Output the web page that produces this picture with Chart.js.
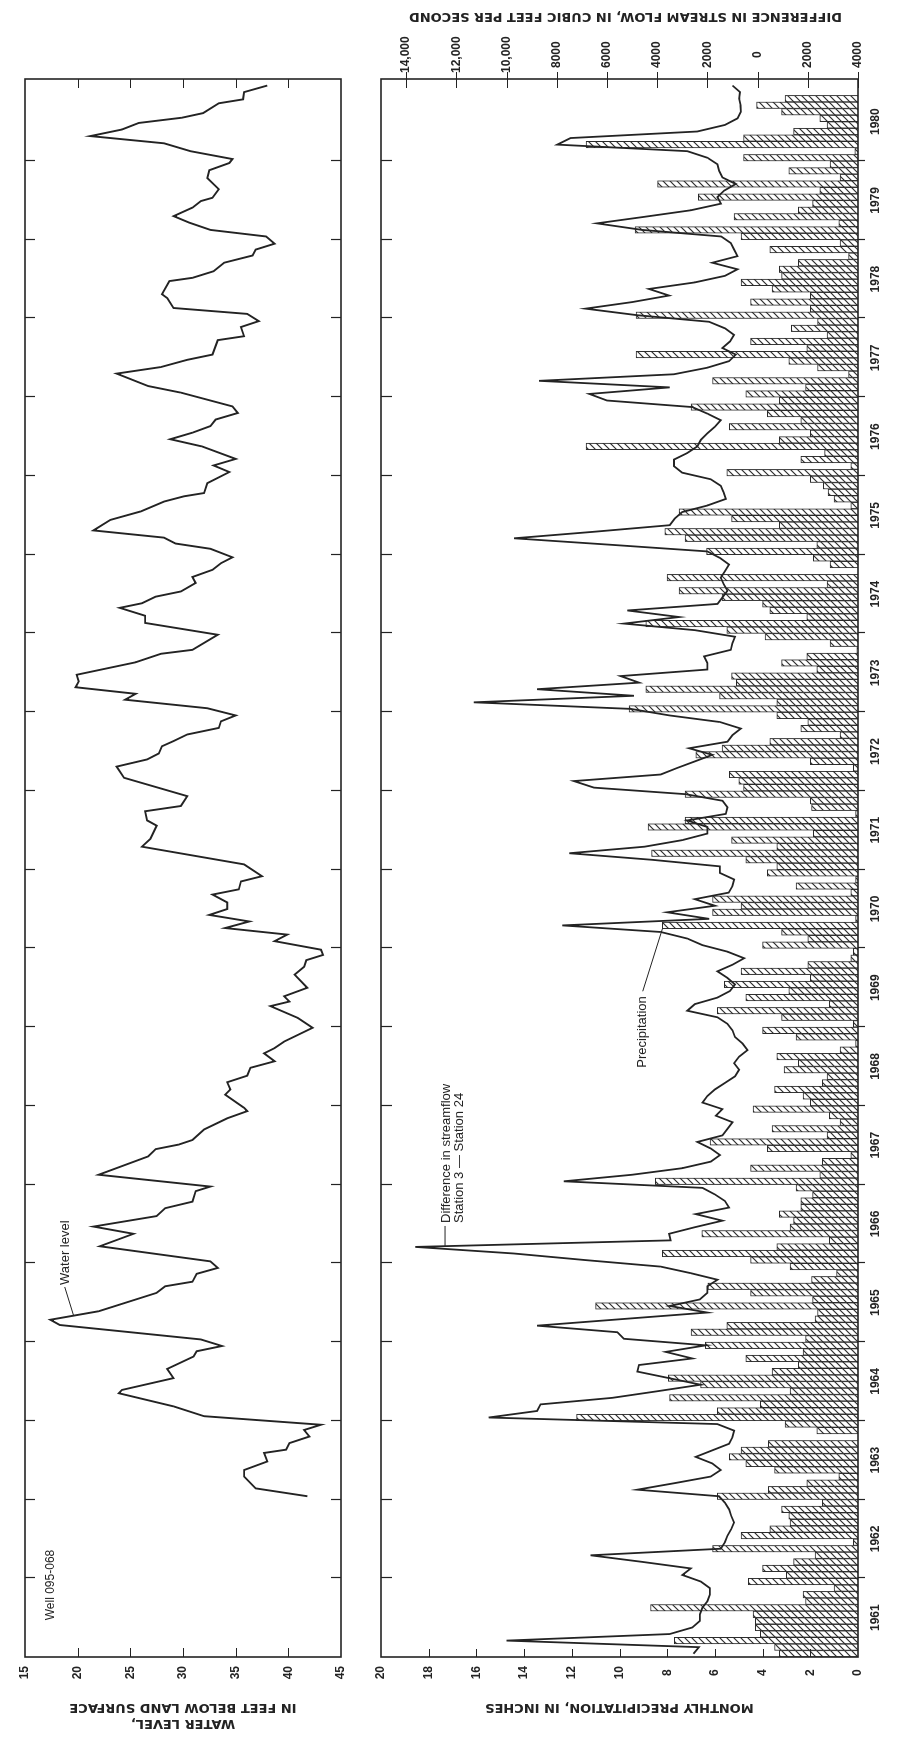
<!DOCTYPE html>
<html>
<head>
<meta charset="utf-8">
<title>Water level, precipitation and streamflow difference, 1961-1980</title>
<script src="https://cdn.jsdelivr.net/npm/chart.js@4.4.1/dist/chart.umd.min.js"></script>
<style>
  html, body { margin: 0; padding: 0; background: #fff; width: 919px; height: 1737px; overflow: hidden; }
  /* The figure is laid out landscape (1737 x 919) and turned a quarter turn to stand on the page. */
  #sheet { position: absolute; left: 0; top: 0; width: 1737px; height: 919px; background: #fff;
           transform-origin: 0 0; transform: translateY(1737px) rotate(-90deg); }
  #sheet canvas { position: absolute; left: 0; top: 0; }
</style>
</head>
<body>
<div id="sheet">
  <canvas id="wellChart" width="1737" height="919"></canvas>
  <canvas id="flowChart" width="1737" height="919"></canvas>
</div>
<script>
// ---- data -------------------------------------------------------------
const yearLabels = ['1961','1962','1963','1964','1965','1966','1967','1968','1969','1970',
                    '1971','1972','1973','1974','1975','1976','1977','1978','1979','1980'];

// Monthly precipitation, inches, starting January 1961
const precipInches = [
  3.3, 3.5, 7.7, 4.1, 4.3, 4.3, 4.4, 8.7, 2.2, 2.3, 1.0, 4.6,
  3.0, 4.0, 2.7, 1.8, 6.1, 0.2, 4.9, 3.7, 2.85, 2.9, 3.2, 1.5,
  5.9, 3.76, 2.15, 0.8, 3.5, 4.7, 5.4, 4.9, 3.76, 0.0, 1.73, 3.06,
  11.8, 5.9, 4.1, 7.9, 2.85, 6.6, 7.95, 3.6, 2.5, 4.7, 2.3, 6.4,
  2.2, 7.0, 5.5, 1.8, 1.7, 11.0, 1.9, 4.5, 6.3, 1.95, 0.9, 2.85,
  4.5, 8.2, 3.4, 1.2, 6.55, 2.85, 2.7, 3.3, 2.4, 2.4, 1.9, 2.6,
  8.5, 1.6, 4.5, 1.5, 0.3, 3.8, 6.2, 1.3, 3.6, 0.75, 1.2, 4.4,
  2.0, 2.3, 3.5, 1.5, 1.3, 3.1, 2.5, 3.4, 0.75, 0.1, 2.6, 4.0,
  0.2, 3.2, 5.9, 1.2, 4.7, 2.9, 5.6, 2.0, 4.9, 2.1, 0.3, 0.2,
  4.0, 2.1, 3.2, 8.2, 0.1, 6.1, 4.9, 6.1, 0.3, 2.6, 0.1, 3.8,
  3.4, 4.7, 8.65, 3.4, 5.3, 1.87, 8.8, 7.25, 0.1, 1.95, 2.0, 7.25,
  4.8, 5.0, 5.4, 0.2, 2.0, 6.8, 5.7, 3.7, 0.75, 2.4, 2.1, 3.4,
  9.6, 3.4, 5.8, 8.9, 5.1, 5.3, 1.73, 3.2, 2.15, 0.05, 1.17, 3.9,
  5.5, 8.9, 2.15, 3.7, 4.0, 5.7, 7.5, 1.3, 8.0, 0.0, 1.17, 1.87,
  6.35, 1.73, 7.25, 8.1, 3.3, 5.3, 7.5, 0.3, 1.0, 1.25, 1.45, 2.0,
  5.5, 0.3, 2.4, 1.4, 11.4, 3.3, 2.0, 5.4, 2.4, 3.8, 7.0, 3.3,
  4.7, 2.2, 6.1, 0.4, 1.7, 2.9, 9.3, 2.15, 4.5, 1.3, 2.8, 1.7,
  9.3, 2.0, 4.5, 2.0, 3.6, 4.9, 3.2, 3.3, 2.5, 0.4, 3.7, 0.75,
  4.9, 9.35, 0.8, 5.2, 2.5, 1.9, 6.7, 1.6, 8.4, 0.75, 2.9, 1.17,
  4.8, 0.13, 11.4, 4.8, 2.7, 1.3, 1.6, 3.2, 4.25, 3.06
];

// Monthly difference in streamflow, Station 3 - Station 24, cubic feet per second
const flowCfs = [
  2550, 2340, 10000, 3500, 2600, 2300, 2300, 2200, 2000, 1900, 1900, 2264,
  2995, 2663, 4600, 6653, 1466, 1300, 1200, 1050, 934, 1050, 1134, 1300,
  1530, 4791, 3300, 1865, 1466, 1800, 2464, 1800, 1134, 1000, 934, 1600,
  10710, 8781, 8648, 5788, 4000, 2264, 3526, 4791, 4724, 2597, 3660, 2064,
  5323, 5589, 8781, 5400, 2000, 3500, 2300, 2000, 2000, 1600, 2663, 3860,
  6880, 9720, 13636, 3460, 3526, 2500, 1400, 2464, 1134, 1300, 1700, 2197,
  7717, 5000, 3000, 1865, 1500, 1865, 2397, 1400, 1200, 1000, 1666, 1400,
  2197, 2000, 1700, 1300, 900, 735, 934, 735, 400, 600, 900, 1000,
  1200, 1600, 2800, 2500, 1600, 1100, 900, 1200, 1600, 1000, 535, 1200,
  2200, 2800, 3860, 7780, 1930, 3600, 1700, 2500, 1150, 1000, 930, 1500,
  1500, 4200, 7500, 4500, 3000, 2000, 2000, 2800, 1266, 1200, 1400, 2863,
  6520, 7318, 3860, 3200, 2500, 1800, 2730, 1200, 1000, 668, 1500, 3500,
  5057, 11308, 4924, 8781, 4724, 5456, 2000, 2000, 2131, 1067, 1000, 900,
  2500, 5323, 3128, 5190, 1600, 1400, 1200, 1350, 1466, 1300, 1134, 1500,
  2000, 5800, 9700, 6500, 3500, 3300, 3000, 2000, 1266, 1350, 1466, 1865,
  3000, 3330, 3330, 2800, 2400, 2260, 2000, 1700, 1470, 2000, 2600, 6000,
  6700, 3500, 8700, 3330, 2000, 1134, 868, 1400, 1100, 934, 1300, 1932,
  4791, 6853, 5000, 3526, 4326, 2500, 1300, 800, 1800, 800, 934, 1067,
  1450, 4600, 6400, 4500, 2650, 1460, 1600, 1330, 870, 1400, 1530, 1600,
  2000, 2800, 7980, 7450, 2400, 1300, 800, 668, 680, 735, 700, 1000
];

// Well 095-068: time of each reading (months after 1 January 1961) and depth to water (feet)
const waterMonths = [
  24.5, 25.7, 27.5, 28.5, 29.8, 31.1, 31.6, 32.6, 33.6, 34.6, 35.4, 36.7, 38.2, 40.2, 40.7,
  42.5, 43.9, 45.8, 46.6, 47.4, 48.4, 50.6, 51.4, 52.7, 55.5, 56.5, 57.2, 58.4, 59.3, 60.3,
  62.6, 64.5, 65.6, 67.2, 68.4, 69.4, 71.0, 71.7, 73.5, 76.3, 77.4, 78.1, 78.8, 80.4, 82.1,
  83.2, 83.7, 85.7, 86.5, 87.6, 88.6, 89.8, 90.8, 92.0, 92.8, 93.8, 95.9, 97.4, 99.2, 99.9,
  100.7, 102.0, 104.0, 105.2, 106.2, 107.0, 107.8, 109.1, 110.1, 111.1, 112.1, 113.1, 114.0,
  115.0, 116.2, 117.0, 118.2, 119.0, 120.8, 123.5, 124.7, 126.7, 127.5, 128.9, 129.7, 131.2,
  134.0, 135.7, 136.8, 137.7, 138.8, 139.6, 140.6, 141.6, 142.6, 143.5, 144.6, 145.9, 146.8,
  147.8, 148.7, 149.7, 151.6, 152.9, 153.5, 155.8, 157.6, 158.7, 159.9, 160.6, 161.6, 162.4,
  163.7, 164.6, 165.7, 166.7, 167.6, 168.9, 169.7, 170.6, 171.7, 173.3, 174.6, 176.1, 176.9,
  177.4, 178.9, 180.6, 181.6, 182.6, 184.5, 185.6, 186.6, 187.6, 188.6, 189.6, 190.6, 192.7,
  193.7, 195.6, 196.6, 197.7, 198.5, 200.7, 201.3, 202.7, 203.6, 204.7, 205.6, 207.1, 207.7,
  209.7, 210.2, 211.2, 212.5, 213.6, 214.5, 215.4, 216.5, 217.5, 218.6, 219.6, 220.9, 221.9,
  222.4, 223.7, 225.4, 226.6, 227.7, 228.3, 229.5, 230.7, 231.8, 232.8, 233.8, 234.6, 235.3,
  236.8, 237.4, 238.5, 239.5
];
const waterDepthFt = [
  41.8, 36.9, 35.8, 35.8, 38.0, 37.7, 39.8, 40.1, 42.0, 41.5, 43.1, 32.0, 29.1, 23.9, 24.2,
  29.1, 28.5, 31.0, 31.3, 33.7, 31.7, 18.3, 17.4, 22.0, 27.5, 28.3, 30.9, 31.3, 33.3, 32.6,
  22.1, 25.3, 21.5, 27.5, 28.3, 30.9, 31.2, 32.6, 22.0, 26.7, 27.4, 29.6, 30.9, 32.0, 34.2,
  36.1, 35.8, 34.0, 34.5, 34.2, 36.1, 36.4, 38.7, 37.7, 38.7, 39.6, 42.3, 40.9, 38.3, 40.1,
  39.6, 41.8, 40.6, 41.5, 41.7, 43.3, 43.1, 38.7, 39.9, 34.0, 36.3, 32.5, 34.2,
  34.2, 32.8, 35.3, 35.5, 37.5, 35.8, 26.1, 26.9, 27.5, 26.6, 26.4, 29.8, 30.4,
  24.4, 23.7, 26.6, 27.7, 28.0, 29.1, 30.4, 33.4, 33.6, 35.0, 32.3, 24.5, 25.5,
  19.8, 20.1, 19.9, 25.5, 27.9, 30.9, 33.3, 26.4, 26.4, 24.0, 26.1, 27.4, 29.8,
  31.2, 30.9, 32.8, 33.6, 34.7, 32.6, 29.3, 28.2, 21.5, 23.1, 26.0, 28.2, 30.1,
  32.0, 32.3, 34.4, 32.9, 35.0, 31.8, 28.8, 30.9, 32.6, 33.1, 35.2, 34.7, 29.8,
  26.7, 23.7, 27.9, 30.4, 32.8, 33.3, 35.8, 35.5, 37.2, 36.1, 29.1, 28.5, 28.0,
  28.7, 30.9, 32.9, 33.9, 36.6, 36.9, 38.7, 37.9, 32.6, 30.6, 29.1, 30.9, 31.7,
  32.8, 33.4, 32.3, 32.5, 34.4, 34.7, 30.7, 28.2, 21.2, 24.2, 25.8, 29.9, 31.9,
  33.4, 35.7, 35.8, 38.0
];

const depthTicks  = [15, 20, 25, 30, 35, 40, 45];
const precipTicks = [0, 2, 4, 6, 8, 10, 12, 14, 16, 18, 20];
const flowTicks   = [-4000, -2000, 0, 2000, 4000, 6000, 8000, 10000, 12000, 14000];

// ---- styling ----------------------------------------------------------
const INK = '#232323';
const FAMILY = '"Liberation Sans", Arial, Helvetica, sans-serif';
const WIDE = '"DejaVu Sans", Verdana, sans-serif';
const tickFont  = { family: FAMILY, size: 12, weight: 'bold' };
const titleFont = { family: WIDE, size: 13, weight: 'bold', lineHeight: 1.2 };
const MONTH_MAX = 240.5;

function hatchPattern() {
  const n = 7;
  const c = document.createElement('canvas');
  c.width = n; c.height = n;
  const g = c.getContext('2d');
  g.fillStyle = '#fff';
  g.fillRect(0, 0, n, n);
  g.strokeStyle = '#2e2e2e';
  g.lineWidth = 1.2;
  g.beginPath();
  g.moveTo(-1, n + 1); g.lineTo(n + 1, -1);
  g.moveTo(-1, 1); g.lineTo(1, -1);
  g.moveTo(n - 1, n + 1); g.lineTo(n + 1, n - 1);
  g.stroke();
  return g.createPattern(c, 'repeat');
}

function seg(ctx, x1, y1, x2, y2) { ctx.moveTo(x1, y1); ctx.lineTo(x2, y2); }

// ---- upper panel: well hydrograph --------------------------------------
const wellFrame = {
  id: 'wellFrame',
  afterDatasetsDraw(chart) {
    const { ctx, chartArea: a } = chart;
    const x = chart.scales.x, y = chart.scales.y;
    ctx.save();
    ctx.strokeStyle = INK;
    ctx.lineWidth = 1.6;
    ctx.strokeRect(a.left, a.top, a.right - a.left, a.bottom - a.top);
    ctx.lineWidth = 1.2;
    ctx.beginPath();
    for (let k = 1; k < yearLabels.length; k++) {
      const px = Math.round(x.getPixelForValue(k * 12)) + 0.5;
      seg(ctx, px, a.top, px, a.top + 10);
      seg(ctx, px, a.bottom, px, a.bottom - 10);
    }
    depthTicks.slice(1, -1).forEach(v => {
      const py = Math.round(y.getPixelForValue(v)) + 0.5;
      seg(ctx, a.left, py, a.left + 9, py);
      seg(ctx, a.right, py, a.right - 9, py);
    });
    ctx.stroke();

    ctx.fillStyle = INK;
    ctx.textAlign = 'left';
    ctx.textBaseline = 'alphabetic';
    ctx.font = '12px ' + FAMILY;
    ctx.fillText('Well 095-068', x.getPixelForValue(5.6), y.getPixelForValue(17.75));

    ctx.font = '13px ' + FAMILY;
    const tx = x.getPixelForValue(56.7), ty = y.getPixelForValue(19.2);
    ctx.fillText('Water level', tx, ty);
    ctx.lineWidth = 1;
    ctx.beginPath();
    seg(ctx, tx - 2, ty - 4.5, x.getPixelForValue(52.1), y.getPixelForValue(19.6));
    ctx.stroke();
    ctx.restore();
  }
};

new Chart(document.getElementById('wellChart'), {
  type: 'line',
  data: {
    datasets: [{
      data: waterMonths.map((t, i) => ({ x: t, y: waterDepthFt[i] })),
      borderColor: INK, borderWidth: 1.9, pointRadius: 0, tension: 0, fill: false
    }]
  },
  options: {
    responsive: false, animation: false, events: [], devicePixelRatio: 1,
    layout: { autoPadding: false, padding: { top: 25, bottom: 578, left: 0, right: 79 } },
    plugins: { legend: { display: false }, tooltip: { enabled: false } },
    scales: {
      x: { type: 'linear', min: 0, max: MONTH_MAX, display: false, offset: false },
      y: {
        type: 'linear', position: 'left', min: 15, max: 45, reverse: true,
        afterFit: s => { s.width = 80; },
        afterBuildTicks: s => { s.ticks = depthTicks.map(v => ({ value: v })); },
        grid: { display: false, drawTicks: false }, border: { display: false },
        ticks: { font: tickFont, color: INK, padding: 9, crossAlign: 'center' },
        title: { display: true, text: ['WATER LEVEL,', 'IN FEET BELOW LAND SURFACE'],
                 font: titleFont, color: INK, padding: { top: 6, bottom: 0 } }
      }
    }
  },
  plugins: [wellFrame]
});

// ---- lower panel: precipitation bars and streamflow difference ---------
const flowFrame = {
  id: 'flowFrame',
  afterDatasetsDraw(chart) {
    const { ctx, chartArea: a } = chart;
    const x = chart.scales.x, yp = chart.scales.yPrecip, yf = chart.scales.yFlow;
    ctx.save();
    ctx.strokeStyle = INK;
    ctx.lineWidth = 1.6;
    ctx.strokeRect(a.left, a.top, a.right - a.left, a.bottom - a.top);
    ctx.lineWidth = 1.2;
    ctx.beginPath();
    for (let k = 1; k < yearLabels.length; k++) {
      const px = Math.round(x.getPixelForValue(k * 12)) + 0.5;
      seg(ctx, px, a.top, px, a.top + 11);
      seg(ctx, px, a.bottom, px, a.bottom + 7);
    }
    precipTicks.slice(1, -1).forEach(v => {
      const py = Math.round(yp.getPixelForValue(v)) + 0.5;
      seg(ctx, a.left, py, a.left + 8, py);
    });
    flowTicks.forEach(v => {
      const py = Math.round(yf.getPixelForValue(v)) + 0.5;
      seg(ctx, a.right - 9, py, a.right + 7, py);
    });
    ctx.stroke();

    // right-hand axis title, read from the bottom up like the left-hand ones
    ctx.fillStyle = INK;
    ctx.save();
    ctx.translate(1721, (a.top + a.bottom) / 2 + 6);
    ctx.rotate(-Math.PI / 2);
    ctx.font = 'bold 13px ' + WIDE;
    ctx.textAlign = 'center';
    ctx.textBaseline = 'middle';
    ctx.fillText('DIFFERENCE IN STREAM FLOW, IN CUBIC FEET PER SECOND', 0, 0);
    ctx.restore();

    // curve labels
    ctx.font = '13px ' + FAMILY;
    ctx.textAlign = 'left';
    ctx.textBaseline = 'alphabetic';
    const sx = x.getPixelForValue(66.15), sy = yf.getPixelForValue(12250);
    ctx.fillText('Difference in streamflow', sx, sy);
    ctx.fillText('Station 3 \u2014 Station 24', sx, sy + 13);
    ctx.lineWidth = 1;
    ctx.beginPath();
    seg(ctx, sx - 3, sy - 5, x.getPixelForValue(62.6), sy - 5);
    ctx.stroke();

    const px0 = x.getPixelForValue(89.8), py0 = yp.getPixelForValue(8.9);
    ctx.fillText('Precipitation', px0, py0);
    const w = ctx.measureText('Precipitation').width;
    ctx.beginPath();
    seg(ctx, px0 + w + 5, py0 - 3, x.getPixelForValue(111), yp.getPixelForValue(precipInches[111]));
    ctx.stroke();
    ctx.restore();
  }
};

const flowLabel = v => {
  const a = Math.abs(v);
  return a >= 10000 ? a.toLocaleString('en-US') : String(a);
};

new Chart(document.getElementById('flowChart'), {
  type: 'bar',
  data: {
    datasets: [
      {
        type: 'line', yAxisID: 'yFlow', order: 0,
        data: flowCfs.map((v, i) => ({ x: i + 0.5, y: v })),
        borderColor: INK, borderWidth: 1.8, pointRadius: 0, tension: 0, fill: false
      },
      {
        type: 'bar', yAxisID: 'yPrecip', order: 1,
        data: precipInches.map((v, i) => ({ x: i + 0.5, y: v })),
        backgroundColor: hatchPattern(), borderColor: '#2a2a2a', borderWidth: 1,
        barPercentage: 1, categoryPercentage: 1
      }
    ]
  },
  options: {
    responsive: false, animation: false, events: [], devicePixelRatio: 1,
    layout: { autoPadding: false, padding: { top: 381, bottom: 21, left: 0, right: 0 } },
    plugins: { legend: { display: false }, tooltip: { enabled: false } },
    scales: {
      x: {
        type: 'linear', position: 'bottom', min: 0, max: MONTH_MAX, offset: false,
        afterFit: s => { s.height = 40; },
        afterBuildTicks: s => { s.ticks = yearLabels.map((_, i) => ({ value: i * 12 + 6 })); },
        grid: { display: false, drawTicks: false, offset: false }, border: { display: false },
        ticks: { font: tickFont, color: INK, padding: 10, autoSkip: false, maxRotation: 0, minRotation: 0,
                 callback: (v, i) => yearLabels[i] }
      },
      yPrecip: {
        type: 'linear', position: 'left', min: 0, max: 20,
        afterFit: s => { s.width = 80; },
        afterBuildTicks: s => { s.ticks = precipTicks.map(v => ({ value: v })); },
        grid: { display: false, drawTicks: false }, border: { display: false },
        ticks: { font: tickFont, color: INK, padding: 9, crossAlign: 'center' },
        title: { display: true, text: 'MONTHLY PRECIPITATION, IN INCHES',
                 font: titleFont, color: INK, padding: { top: 22, bottom: 0 } }
      },
      yFlow: {
        type: 'linear', position: 'right', min: -4000, max: 15000,
        afterFit: s => { s.width = 79; },
        afterBuildTicks: s => { s.ticks = flowTicks.map(v => ({ value: v })); },
        grid: { display: false, drawTicks: false }, border: { display: false },
        ticks: { font: tickFont, color: INK, padding: 6, crossAlign: 'center', callback: v => flowLabel(v) }
      }
    }
  },
  plugins: [flowFrame]
});
</script>
</body>
</html>
